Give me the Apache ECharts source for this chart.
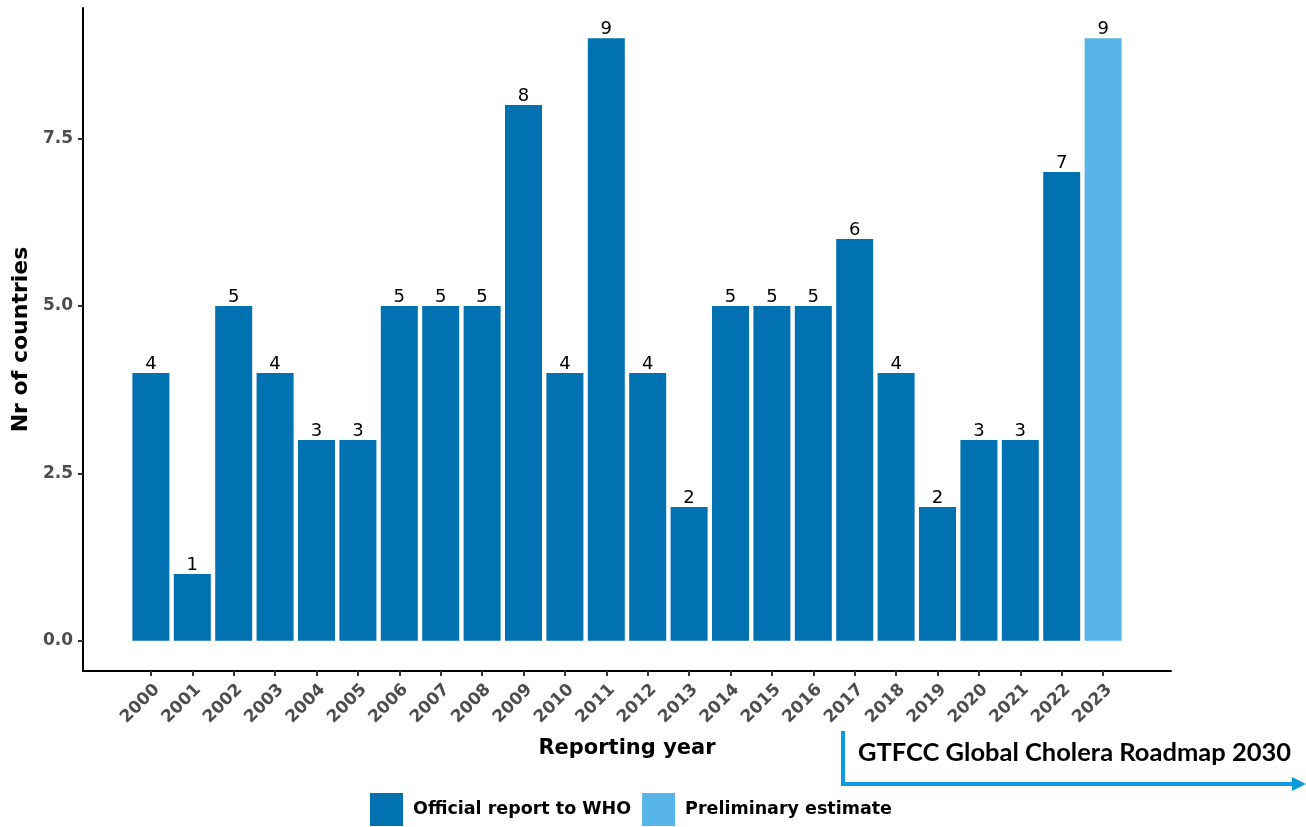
<!DOCTYPE html>
<html>
<head>
<meta charset="utf-8">
<script src="https://cdn.jsdelivr.net/npm/echarts@6/dist/echarts.min.js"></script>
<style>
  html, body { margin: 0; padding: 0; background: #fff; }
  #echart { width: 1306px; height: 827px; }
</style>
</head>
<body>
<div id="echart"></div>
<script>
// reporting years and number of countries
var officialYears = [2000, 2001, 2002, 2003, 2004, 2005, 2006, 2007, 2008, 2009, 2010, 2011,
    2012, 2013, 2014, 2015, 2016, 2017, 2018, 2019, 2020, 2021, 2022];
var officialValues = [4, 1, 5, 4, 3, 3, 5, 5, 5, 8, 4, 9, 4, 2, 5, 5, 5, 6, 4, 2, 3, 3, 7];
var preliminaryYears = [2023];
var preliminaryValues = [9];
var yearTicks = officialYears.concat(preliminaryYears);
var yTicks = [0, 2.5, 5, 7.5];

var font = 'DejaVu Sans, sans-serif';

function pairs(xs, ys) {
    return xs.map(function (x, i) { return [x, ys[i]]; });
}

var myChart = echarts.init(document.getElementById('echart'));

var barLabel = {
    show: true,
    position: 'top',
    distance: 0,
    color: '#000',
    fontFamily: font,
    fontSize: 18,
    formatter: function (p) { return p.value[1]; }
};

var option = {
    animation: false,
    grid: {
        left: 83,
        right: 135,
        top: 8,
        bottom: 156
    },
    legend: {
        bottom: -4,
        left: 365,
        icon: 'rect',
        itemWidth: 33,
        itemHeight: 33,
        itemGap: 11,
        textStyle: {
            fontFamily: font,
            fontWeight: 'bold',
            fontSize: 17.5,
            color: '#000',
            padding: [0, 0, 0, 5]
        },
        data: ['Official report to WHO', 'Preliminary estimate']
    },
    xAxis: {
        type: 'value',
        min: 1998.36,
        max: 2024.64,
        splitLine: { show: false },
        axisLine: { show: true, onZero: false, lineStyle: { color: '#000', width: 2 } },
        axisTick: {
            show: true,
            length: 5,
            customValues: yearTicks,
            lineStyle: { color: '#333', width: 2 }
        },
        axisLabel: {
            customValues: yearTicks,
            rotate: 45,
            margin: 10,
            verticalAlign: 'top',
            color: '#4d4d4d',
            fontFamily: font,
            fontWeight: 'bold',
            fontSize: 17,
            formatter: function (v) { return String(v); }
        },
        name: 'Reporting year',
        nameLocation: 'middle',
        nameGap: 78,
        nameTextStyle: {
            fontFamily: font,
            fontWeight: 'bold',
            fontSize: 21,
            color: '#000',
            verticalAlign: 'middle'
        }
    },
    yAxis: {
        type: 'value',
        min: -0.45,
        max: 9.45,
        splitLine: { show: false },
        axisLine: { show: true, onZero: false, lineStyle: { color: '#000', width: 2 } },
        axisTick: {
            show: true,
            length: 5,
            customValues: yTicks,
            lineStyle: { color: '#333', width: 2 }
        },
        axisLabel: {
            customValues: yTicks,
            margin: 10,
            color: '#4d4d4d',
            fontFamily: font,
            fontWeight: 'bold',
            fontSize: 17,
            formatter: function (v) { return v.toFixed(1); }
        },
        name: 'Nr of countries',
        nameLocation: 'middle',
        nameGap: 42,
        nameTextStyle: {
            fontFamily: font,
            fontWeight: 'bold',
            fontSize: 22,
            color: '#000'
        }
    },
    series: [
        {
            name: 'Official report to WHO',
            type: 'bar',
            barWidth: 37,
            barGap: '-100%',
            itemStyle: { color: '#0072B2' },
            label: barLabel,
            data: pairs(officialYears, officialValues)
        },
        {
            name: 'Preliminary estimate',
            type: 'bar',
            barWidth: 37,
            barGap: '-100%',
            itemStyle: { color: '#56B4E9' },
            label: barLabel,
            data: pairs(preliminaryYears, preliminaryValues)
        }
    ],
    graphic: [
        {
            type: 'polyline',
            shape: { points: [[843, 731], [843, 784], [1294, 784]] },
            style: { stroke: '#0a9ade', lineWidth: 4, fill: null }
        },
        {
            type: 'polygon',
            shape: { points: [[1292, 777], [1306, 784], [1292, 791]] },
            style: { fill: '#0a9ade' }
        },
        {
            type: 'text',
            left: 858,
            top: 740,
            style: {
                text: 'GTFCC Global Cholera Roadmap 2030',
                fontFamily: 'Lato, Open Sans, sans-serif',
                fontWeight: 'bold',
                fontSize: 25.5,
                fill: '#000'
            }
        }
    ]
};

myChart.setOption(option);
</script>
</body>
</html>
